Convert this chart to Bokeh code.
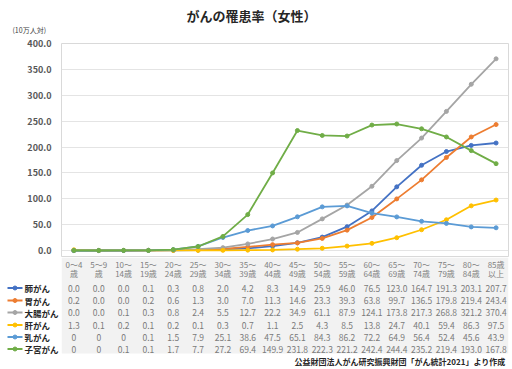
from bokeh.plotting import figure
from bokeh.layouts import column, row
from bokeh.models import (FactorRange, Range1d, FixedTicker, Label, BoxAnnotation,
                          NumeralTickFormatter)
from bokeh.core.properties import value
from bokeh.embed import file_html
from bokeh.resources import INLINE

# ---------------- data ----------------
categories = ["0～4歳", "5～9歳", "10～14歳", "15～19歳", "20～24歳", "25～29歳",
              "30～34歳", "35～39歳", "40～44歳", "45～49歳", "50～54歳", "55～59歳",
              "60～64歳", "65～69歳", "70～74歳", "75～79歳", "80～84歳", "85歳以上"]
header_top = ["0～4", "5～9", "10～", "15～", "20～", "25～", "30～", "35～", "40～",
              "45～", "50～", "55～", "60～", "65～", "70～", "75～", "80～", "85歳"]
header_bottom = ["歳", "歳", "14歳", "19歳", "24歳", "29歳", "34歳", "39歳", "44歳",
                 "49歳", "54歳", "59歳", "64歳", "69歳", "74歳", "79歳", "84歳", "以上"]

series_names = ["肺がん", "胃がん", "大腸がん", "肝がん", "乳がん", "子宮がん"]
lung = [0.0, 0.0, 0.0, 0.1, 0.3, 0.8, 2.0, 4.2, 8.3, 14.9, 25.9, 46.0, 76.5, 123.0, 164.7, 191.3, 203.1, 207.7]
stomach = [0.2, 0.0, 0.0, 0.2, 0.6, 1.3, 3.0, 7.0, 11.3, 14.6, 23.3, 39.3, 63.8, 99.7, 136.5, 179.8, 219.4, 243.4]
colon = [0.0, 0.0, 0.1, 0.3, 0.8, 2.4, 5.5, 12.7, 22.2, 34.9, 61.1, 87.9, 124.1, 173.8, 217.3, 268.8, 321.2, 370.4]
liver = [1.3, 0.1, 0.2, 0.1, 0.2, 0.1, 0.3, 0.7, 1.1, 2.5, 4.3, 8.5, 13.8, 24.7, 40.1, 59.4, 86.3, 97.5]
breast = [0, 0, 0, 0.1, 1.5, 7.9, 25.1, 38.6, 47.5, 65.1, 84.3, 86.2, 72.2, 64.9, 56.4, 52.4, 45.6, 43.9]
uterus = [0, 0, 0.1, 0.1, 1.7, 7.7, 27.2, 69.4, 149.9, 231.8, 222.3, 221.2, 242.4, 244.4, 235.2, 219.4, 193.0, 167.8]
series_values = [lung, stomach, colon, liver, breast, uterus]
zero_as_int = [False, False, False, False, True, True]
y_ticks = [0, 50, 100, 150, 200, 250, 300, 350, 400]

title_text = "がんの罹患率（女性）"
unit_text = "(10万人対)"
source_text = "公益財団法人がん研究振興財団「がん統計2021」より作成"

# ---------------- style / layout (page pixels) ----------------
colors = ["#4472C4", "#ED7D31", "#A5A5A5", "#FFC000", "#5B9BD5", "#70AD47"]
FONT = "Noto Sans CJK JP"
W, HT = 512, 369
FL, FR = 61, 508           # chart / table frame left & right
H0 = 37                    # header strip height
FT, FB1 = 43, 256          # chart frame top / bottom
Y0 = 250                   # page y of value 0
PXU = (Y0 - FT) / 400.0
T0, TB = 257, 353          # table top / bottom
H2 = HT - T0

header_rows = [264, 273]
row_centers = [287.5, 300, 312, 324.5, 336.5, 348.5]
KEY_X0, KEY_X1, LABEL_X = 7, 22, 24


def panel(width, height, xr, yr, **kw):
    f = figure(width=width, height=height, x_range=xr, y_range=yr,
               output_backend="svg", toolbar_location=None,
               x_axis_location=None, y_axis_location=None, **kw)
    f.outline_line_color = None
    f.grid.visible = False
    return f


# ---------------- header strip (unit | title) ----------------
p0l = panel(FL, H0, Range1d(0, FL), Range1d(H0, 0), min_border=0)
p0l.text(x=[12], y=[29], text=[unit_text], text_font=value(FONT),
         text_font_size="7px", text_color="#404040",
         text_align="left", text_baseline="middle")
p0r = panel(W - FL, H0, Range1d(FL, FR), Range1d(H0, 0),
            min_border_left=0, min_border_right=W - FR,
            min_border_top=0, min_border_bottom=0)
p0r.text(x=[251], y=[15], text=[title_text], text_font=value(FONT),
         text_font_size="13px", text_font_style="bold", text_color="#262626",
         text_align="center", text_baseline="middle")

# ---------------- chart ----------------
x_range = FactorRange(*categories)
H1 = T0 - H0
p1 = figure(width=W, height=H1, x_range=x_range,
            y_range=Range1d(-(FB1 - Y0) / PXU, 400),
            output_backend="svg", toolbar_location=None,
            x_axis_location=None,
            min_border_left=FL, min_border_right=W - FR,
            min_border_top=FT - H0, min_border_bottom=T0 - FB1)
p1.outline_line_color = "#d9d9d9"
p1.xgrid.visible = False
p1.yaxis.ticker = FixedTicker(ticks=y_ticks)
p1.ygrid.ticker = FixedTicker(ticks=y_ticks)
p1.yaxis.formatter = NumeralTickFormatter(format="0.0")
p1.yaxis.axis_line_color = None
p1.yaxis.major_tick_line_color = None
p1.yaxis.minor_tick_line_color = None
p1.yaxis.major_tick_out = 0
p1.yaxis.major_tick_in = 0
p1.yaxis.minor_tick_out = 0
p1.yaxis.minor_tick_in = 0
p1.yaxis.major_label_standoff = 10
p1.yaxis.major_label_text_font = FONT
p1.yaxis.major_label_text_font_size = "9px"
p1.yaxis.major_label_text_font_style = "bold"
p1.yaxis.major_label_text_color = "#595959"
p1.ygrid.grid_line_color = "#e4e4e4"

for vals, c in zip(series_values, colors):
    p1.line(categories, vals, line_color=c, line_width=1.8)
    p1.scatter(categories, vals, size=4, color=c)

# ---------------- legend column ----------------
pl = panel(FL, H2, Range1d(0, FL), Range1d(HT, T0), min_border=0)
n = len(series_names)
pl.segment(x0=[KEY_X0] * n, x1=[KEY_X1] * n, y0=row_centers, y1=row_centers,
           line_color=colors, line_width=1.8)
pl.scatter(x=[(KEY_X0 + KEY_X1) / 2] * n, y=row_centers, size=4, color=colors)
pl.text(x=[LABEL_X] * n, y=row_centers, text=series_names, text_font=value(FONT),
        text_font_size="8.5px", text_font_style="bold", text_color="#262626",
        text_align="left", text_baseline="middle")

# ---------------- table ----------------
p2 = panel(W - FL, H2, x_range, Range1d(HT, T0),
           min_border_left=0, min_border_right=W - FR,
           min_border_top=0, min_border_bottom=0)
p2.add_layout(BoxAnnotation(top=T0, bottom=TB, fill_color="#f2f2f2", fill_alpha=1,
                            line_alpha=0, level="underlay"))

for txt, ry in zip([header_top, header_bottom], header_rows):
    p2.text(x=categories, y=[ry] * len(categories), text=txt,
            text_font=value(FONT), text_font_size="8px", text_color="#7f7f7f",
            text_align="center", text_baseline="middle")

for vals, zi, ry in zip(series_values, zero_as_int, row_centers):
    labels = ["0" if (zi and v == 0) else f"{v:.1f}" for v in vals]
    p2.text(x=categories, y=[ry] * len(categories), text=labels,
            text_font=value(FONT), text_font_size="8.5px", text_color="#7a7a7a",
            text_align="center", text_baseline="middle")

p2.add_layout(Label(x=505 - FL, y=HT - 361, x_units="screen", y_units="screen",
                    text=source_text, text_font=FONT, text_font_size="8px",
                    text_font_style="bold", text_color="#262626",
                    text_align="right", text_baseline="middle"))

layout = column(row(p0l, p0r, spacing=0), p1, row(pl, p2, spacing=0), spacing=0)
open("out.html", "w").write(file_html(layout, INLINE))
